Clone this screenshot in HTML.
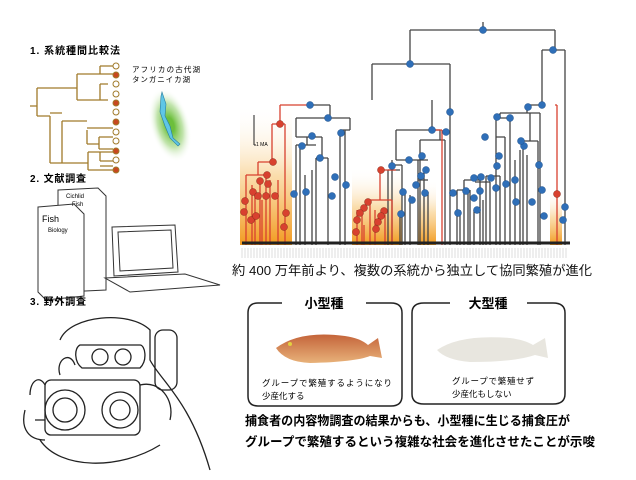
<!DOCTYPE html>
<html><head><meta charset="utf-8"><style>
body{margin:0;background:#fff;width:636px;height:480px;overflow:hidden;font-family:"Liberation Sans","Noto Sans CJK JP",sans-serif;}
svg{position:absolute;left:0;top:0}
</style></head><body>
<svg width="636" height="480" viewBox="0 0 636 480" xmlns="http://www.w3.org/2000/svg" font-family="Liberation Sans, Noto Sans CJK JP, sans-serif">
<defs>
<linearGradient id="og" x1="0" y1="1" x2="0" y2="0"><stop offset="0" stop-color="#f29a1e"/><stop offset="0.5" stop-color="#f8cf8a" stop-opacity="0.7"/><stop offset="1" stop-color="#fff" stop-opacity="0"/></linearGradient>
<radialGradient id="gl" cx="0.5" cy="0.5" r="0.5"><stop offset="0.2" stop-color="#6cbf3c"/><stop offset="0.6" stop-color="#a8d98a" stop-opacity="0.7"/><stop offset="1" stop-color="#fff" stop-opacity="0"/></radialGradient>
<linearGradient id="f1" x1="0" y1="0" x2="0" y2="1"><stop offset="0" stop-color="#c4643a"/><stop offset="1" stop-color="#e8b27a"/></linearGradient>
</defs>
<text x="30" y="54" font-size="10" font-weight="bold" textLength="90">1. 系統種間比較法</text>
<g stroke="#a07a2a" stroke-width="1.3" fill="none">
<path d="M30 106H37M37 88V116M37 88H77M37 116H50M77 74V100M77 74H100M77 100H100M100 66V74M100 66H113M100 74H113M100 84V100M100 84H108M100 100H108M50 116V163M50 113H62M62 121H87M50 163H62M62 121V163M87 130V144M62 163H88M88 152V170M88 152H100M88 170H100M87 128H113M87 144H99M99 137H113M99 149H113M99 137V149M100 152H113M100 161H113M100 152V161M100 166H113M100 170H113"/>
</g>
<g stroke="#a07a2a" stroke-width="1">
<circle cx="116" cy="66" r="3" fill="#fff"/><circle cx="116" cy="75" r="3" fill="#c8471f"/><circle cx="116" cy="84" r="3" fill="#fff"/><circle cx="116" cy="94" r="3" fill="#fff"/><circle cx="116" cy="103" r="3" fill="#c8471f"/><circle cx="116" cy="112" r="3" fill="#fff"/><circle cx="116" cy="122" r="3" fill="#c8471f"/><circle cx="116" cy="132" r="3" fill="#fff"/><circle cx="116" cy="141" r="3" fill="#fff"/><circle cx="116" cy="151" r="3" fill="#c8471f"/><circle cx="116" cy="160" r="3" fill="#fff"/><circle cx="116" cy="170" r="3" fill="#c8471f"/>
</g>
<text x="132" y="72" font-size="7.5" textLength="68">アフリカの古代湖</text>
<text x="132" y="82" font-size="7.5" textLength="58">タンガニイカ湖</text>
<ellipse cx="170" cy="125" rx="20" ry="38" fill="url(#gl)" transform="rotate(-15 170 125)"/>
<path d="M162 92L166 104L165 116L170 126L173 138L180 144L178 146L170 138L165 126L160 112L161 96Z" fill="#5fc6e6" stroke="#2a7ea0" stroke-width="0.6"/>
<text x="30" y="182" font-size="10" font-weight="bold" textLength="56">2. 文献調査</text>
<g stroke="#333" fill="#fff" stroke-width="1">
<path d="M58 190L98 188L106 196L106 290L64 292L58 285Z"/>
<path d="M38 207L74 204L84 214L84 296L46 300L38 292Z"/>
<path d="M112 227L175 225L178 272L114 276Z"/>
<path d="M105 278L185 274L220 285L130 292Z"/>
<path d="M118 232L171 230L173 268L120 271Z"/>
</g>
<text x="42" y="222" font-size="9">Fish</text><text x="48" y="232" font-size="6">Biology</text>
<text x="66" y="198" font-size="6">Cichlid</text><text x="72" y="206" font-size="6">Fish</text>
<text x="30" y="305" font-size="10" font-weight="bold" textLength="56">3. 野外調査</text>
<g stroke="#222" fill="none" stroke-width="1.3">
<path d="M60 340C70 315 130 310 150 330L150 360C160 380 190 400 210 470"/>
<path d="M80 345H140C145 345 148 360 140 368H82C74 362 74 348 80 345Z"/>
<circle cx="100" cy="357" r="8"/><circle cx="123" cy="357" r="8"/>
<rect x="155" y="330" width="22" height="60" rx="8"/>
<rect x="45" y="380" width="95" height="55" rx="6"/>
<circle cx="65" cy="410" r="20"/><circle cx="65" cy="410" r="12"/>
<circle cx="120" cy="410" r="18"/><circle cx="120" cy="410" r="10"/>
<path d="M30 395C30 380 40 375 45 385M140 385C160 380 175 400 170 420M40 440C60 470 120 470 160 445"/>
<path d="M60 375C55 360 70 350 75 365M35 420H45M25 410C20 430 30 440 45 440"/>
</g>
<rect x="240" y="105" width="52" height="140" fill="url(#og)"/>
<rect x="352" y="168" width="50" height="77" fill="url(#og)"/>
<rect x="418" y="180" width="18" height="65" fill="url(#og)"/>
<rect x="550" y="190" width="12" height="55" fill="url(#og)"/>
<path d="M254 115V145M254 145H256" stroke="#222" stroke-width="1"/><text x="256" y="146" font-size="5">1 MA</text>
<g stroke="#444" stroke-width="1.3" fill="none">
<path d="M483 22V30M410 30H555M410 30V64M555 30V50M372 64H450M372 64V100M450 64V245M450 112V245M542 50H565M542 50V105M565 50V245M565 210V245"/>
<path d="M310 105H330M330 105V118M296 118H350M296 118V137M350 118V130M340 130H350M345 130V245M340 130V245M296 137H322M307 137V145M296 145H316M296 145V245M322 137V158M316 158H328M316 158V245M328 158V245M300 145H313M300 145V245M305 175V245M312 170V245"/>
<path d="M432 100V130M396 130H440M396 130V160M440 130V140M420 140H445M420 140V245M445 140V245M396 160H428M392 160V165M392 165H402M392 165V245M402 165V245M388 170H400M388 170V245M418 160V245M424 172V245M428 192V245M405 192V245M410 195V245M400 215V245M418 180H428"/>
<path d="M527 105H542M527 105V113M500 113H540M500 113V118M496 118H510M496 118V137M510 118V245M496 137H505M496 137V245M505 137V245M540 113V245M530 113V141M523 141H538M523 141V245M538 141V245M527 155V245M520 150V245M515 160V245"/>
<path d="M486 176H500M486 176V245M500 176V245M464 180H480M464 180V245M480 180V245M470 190V245M474 210V245M457 190H468M457 190V245M468 190V245M475 182H490M490 182V245M483 200V245M460 210V245"/>
</g>
<g stroke="#d8412f" stroke-width="1.3" fill="none">
<path d="M280 105H310M280 105V124M272 124H285M272 124V162M285 124V245M258 162H272M258 162V175M246 175H266M246 175V245M266 175V245M252 185V245M260 180V245M270 180V245M278 180V245M255 195V245M262 200V245"/>
<path d="M380 170H396M380 170V200M370 200H392M370 200V245M392 200V245M375 210V245M362 210V245M385 215V245M364 225V245"/>
<path d="M432 130H442M442 130V245M555 105H557M557 105V245M357 210V245"/>
</g>
<path d="M242 243H570" stroke="#222" stroke-width="3"/>
<g stroke="#bbb" stroke-width="0.5">
<path d="M242 248V258M245 248V258M248 248V258M251 248V258M254 248V258M257 248V258M260 248V258M263 248V258M266 248V258M269 248V258M272 248V258M275 248V258M278 248V258M281 248V258M284 248V258M287 248V258M290 248V258M293 248V258M296 248V258M299 248V258M302 248V258M305 248V258M308 248V258M311 248V258M314 248V258M317 248V258M320 248V258M323 248V258M326 248V258M329 248V258M332 248V258M335 248V258M338 248V258M341 248V258M344 248V258M347 248V258M350 248V258M353 248V258M356 248V258M359 248V258M362 248V258M365 248V258M368 248V258M371 248V258M374 248V258M377 248V258M380 248V258M383 248V258M386 248V258M389 248V258M392 248V258M395 248V258M398 248V258M401 248V258M404 248V258M407 248V258M410 248V258M413 248V258M416 248V258M419 248V258M422 248V258M425 248V258M428 248V258M431 248V258M434 248V258M437 248V258M440 248V258M443 248V258M446 248V258M449 248V258M452 248V258M455 248V258M458 248V258M461 248V258M464 248V258M467 248V258M470 248V258M473 248V258M476 248V258M479 248V258M482 248V258M485 248V258M488 248V258M491 248V258M494 248V258M497 248V258M500 248V258M503 248V258M506 248V258M509 248V258M512 248V258M515 248V258M518 248V258M521 248V258M524 248V258M527 248V258M530 248V258M533 248V258M536 248V258M539 248V258M542 248V258M545 248V258M548 248V258M551 248V258M554 248V258M557 248V258M560 248V258M563 248V258M566 248V258"/>
</g>
<g fill="#2f6fb8" stroke="#1d4f8a" stroke-width="0.5">
<circle cx="483" cy="30" r="3.5"/><circle cx="410" cy="64" r="3.5"/><circle cx="553" cy="50" r="3.5"/><circle cx="310" cy="105" r="3.5"/><circle cx="328" cy="118" r="3.5"/><circle cx="312" cy="136" r="3.5"/><circle cx="302" cy="146" r="3.5"/><circle cx="320" cy="158" r="3.5"/><circle cx="341" cy="133" r="3.5"/><circle cx="335" cy="177" r="3.5"/><circle cx="346" cy="185" r="3.5"/><circle cx="294" cy="194" r="3.5"/><circle cx="306" cy="192" r="3.5"/><circle cx="332" cy="196" r="3.5"/>
<circle cx="450" cy="112" r="3.5"/><circle cx="432" cy="130" r="3.5"/><circle cx="446" cy="132" r="3.5"/><circle cx="422" cy="156" r="3.5"/><circle cx="409" cy="160" r="3.5"/><circle cx="392" cy="166" r="3.5"/><circle cx="426" cy="170" r="3.5"/><circle cx="421" cy="176" r="3.5"/><circle cx="416" cy="185" r="3.5"/><circle cx="403" cy="192" r="3.5"/><circle cx="425" cy="193" r="3.5"/><circle cx="412" cy="200" r="3.5"/><circle cx="401" cy="214" r="3.5"/><circle cx="453" cy="193" r="3.5"/>
<circle cx="542" cy="105" r="3.5"/><circle cx="528" cy="107" r="3.5"/><circle cx="510" cy="118" r="3.5"/><circle cx="497" cy="117" r="3.5"/><circle cx="485" cy="137" r="3.5"/><circle cx="524" cy="146" r="3.5"/><circle cx="521" cy="141" r="3.5"/><circle cx="499" cy="156" r="3.5"/><circle cx="497" cy="166" r="3.5"/><circle cx="539" cy="165" r="3.5"/><circle cx="474" cy="178" r="3.5"/><circle cx="481" cy="177" r="3.5"/><circle cx="491" cy="178" r="3.5"/><circle cx="466" cy="191" r="3.5"/><circle cx="480" cy="191" r="3.5"/><circle cx="474" cy="198" r="3.5"/><circle cx="458" cy="213" r="3.5"/><circle cx="477" cy="210" r="3.5"/><circle cx="496" cy="188" r="3.5"/><circle cx="506" cy="184" r="3.5"/><circle cx="515" cy="180" r="3.5"/><circle cx="516" cy="202" r="3.5"/><circle cx="532" cy="202" r="3.5"/><circle cx="542" cy="190" r="3.5"/><circle cx="544" cy="216" r="3.5"/><circle cx="565" cy="207" r="3.5"/><circle cx="563" cy="220" r="3.5"/>
</g>
<g fill="#d8412f" stroke="#8a2a1a" stroke-width="0.5">
<circle cx="280" cy="124" r="3.5"/><circle cx="273" cy="162" r="3.5"/><circle cx="267" cy="175" r="3.5"/><circle cx="260" cy="181" r="3.5"/><circle cx="268" cy="184" r="3.5"/><circle cx="253" cy="192" r="3.5"/><circle cx="245" cy="201" r="3.5"/><circle cx="258" cy="196" r="3.5"/><circle cx="266" cy="196" r="3.5"/><circle cx="275" cy="196" r="3.5"/><circle cx="244" cy="212" r="3.5"/><circle cx="251" cy="220" r="3.5"/><circle cx="256" cy="216" r="3.5"/><circle cx="286" cy="213" r="3.5"/><circle cx="284" cy="227" r="3.5"/>
<circle cx="381" cy="170" r="3.5"/><circle cx="368" cy="202" r="3.5"/><circle cx="364" cy="208" r="3.5"/><circle cx="360" cy="213" r="3.5"/><circle cx="357" cy="220" r="3.5"/><circle cx="356" cy="232" r="3.5"/><circle cx="384" cy="211" r="3.5"/><circle cx="381" cy="216" r="3.5"/><circle cx="378" cy="222" r="3.5"/><circle cx="376" cy="229" r="3.5"/><circle cx="557" cy="194" r="3.5"/>
</g>
<text x="232" y="275" font-size="13" fill="#111" textLength="360" lengthAdjust="spacingAndGlyphs">約 400 万年前より、複数の系統から独立して協同繁殖が進化</text>
<g stroke="#222" stroke-width="1.5" fill="none">
<path d="M282 303H258Q248 303 248 313V396Q248 406 258 406H391Q402 406 402 396V313Q402 303 391 303H366"/>
<path d="M450 303H424Q412 303 412 313V394Q412 404 424 404H553Q565 404 565 394V313Q565 303 553 303H527"/>
</g>
<text x="324" y="308" font-size="13" text-anchor="middle" font-weight="bold">小型種</text>
<text x="488" y="308" font-size="13" text-anchor="middle" font-weight="bold">大型種</text>
<path d="M276 348Q300 330 345 336Q360 338 368 345L378 338L382 358L370 356Q355 362 310 363Q285 362 276 348Z" fill="url(#f1)"/>
<circle cx="290" cy="344" r="2" fill="#e2d040"/>
<path d="M437 350Q460 334 510 338Q525 340 533 345L545 338L548 358L535 355Q515 362 470 362Q446 360 437 350Z" fill="#e8e6df"/>
<text x="262" y="386" font-size="8.5" textLength="130">グループで繁殖するようになり</text>
<text x="262" y="399" font-size="8.5">少産化する</text>
<text x="452" y="384" font-size="8.5" textLength="82">グループで繁殖せず</text>
<text x="452" y="397" font-size="8.5">少産化もしない</text>
<text x="245" y="425" font-size="12.5" font-weight="bold" textLength="325" lengthAdjust="spacingAndGlyphs">捕食者の内容物調査の結果からも、小型種に生じる捕食圧が</text>
<text x="245" y="446" font-size="12.5" font-weight="bold" textLength="350" lengthAdjust="spacingAndGlyphs">グループで繁殖するという複雑な社会を進化させたことが示唆</text>
</svg>
</body></html>
